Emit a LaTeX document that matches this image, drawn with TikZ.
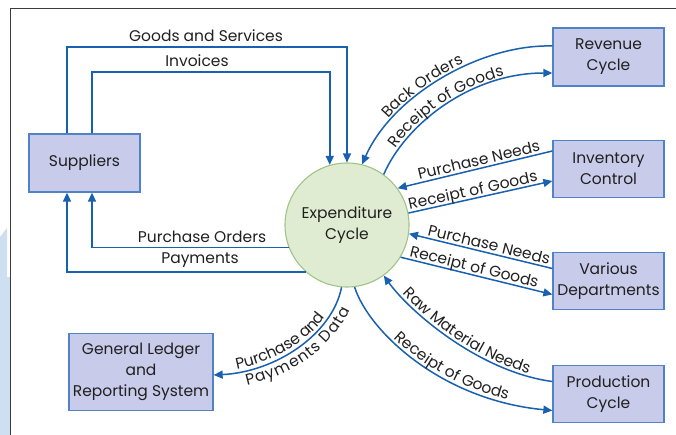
\documentclass[tikz,border=0pt]{standalone}
\usepackage{fontspec}
\setmainfont{Poppins}
\usetikzlibrary{arrows.meta,decorations.text}
\definecolor{flowblue}{RGB}{24,96,176}
\definecolor{boxfill}{RGB}{200,203,234}
\definecolor{boxline}{RGB}{80,130,200}
\definecolor{circfill}{RGB}{224,236,210}
\definecolor{circline}{RGB}{160,196,135}
\definecolor{txt}{RGB}{32,32,32}
\definecolor{sidebar}{RGB}{205,223,240}
\definecolor{frame}{RGB}{60,60,60}
\newcommand\lblfont{\fontsize{15.5pt}{21pt}\selectfont\color{txt}}
\begin{document}
\begin{tikzpicture}[x=1pt,y=-1pt,
  box/.style={draw=boxline, fill=boxfill, line width=1.3pt, minimum width=111pt,
    minimum height=58pt, align=center, font=\lblfont, inner sep=2pt},
  hub/.style={circle, draw=circline, fill=circfill, line width=1.1pt, minimum size=124pt,
    align=center, font=\lblfont, inner sep=0pt},
  flow/.style={draw=flowblue, line width=1.5pt, -{Triangle[length=9pt,width=8pt]}},
  lbl/.style={font=\lblfont, inner sep=0pt, anchor=base},
]
\useasboundingbox (0,0) rectangle (676,435);
\fill[sidebar] (0,237) -- (7,228) -- (7,277) -- (10,277) -- (10,435) -- (0,435) -- cycle;
\draw[frame, line width=1.3pt] (10.5,435) -- (10.5,8.5) -- (676,8.5);

\node[box] (sup) at (84.5,163) {Suppliers};
\node[box] (rev) at (608.5,57) {Revenue\\Cycle};
\node[box, minimum height=57pt] (inv) at (608.5,169) {Inventory\\Control};
\node[box, minimum height=57pt] (var) at (608.5,281) {Various\\Departments};
\node[box, minimum height=57pt] (prod) at (608.5,394) {Production\\Cycle};
\node[box, minimum width=144pt, minimum height=77pt] (gl) at (141,372) {General Ledger\\and\\Reporting System};
\node[hub] (circ) at (347,225) {Expenditure\\Cycle};

\coordinate (gtop) at (0,47);
\coordinate (itop) at (0,72);

% supplier flows
\draw[flow] ([xshift=-17.5pt]sup.north) |- (circ.north |- gtop) -- (circ.north);
\draw[flow] ([xshift=7.5pt]sup.north) |- (circ.106 |- itop) -- (circ.106);
\draw[flow] (circ.201) -| ([xshift=7.5pt]sup.south);
\draw[flow] (circ.229) -| ([xshift=-17.5pt]sup.south);
\node[lbl] (lgs) at (206,42) {Goods and Services};
\node[lbl] (linv) at (197,67) {Invoices};
\node[lbl] (lpo) at (202,243) {Purchase Orders};
\node[lbl] (lpay) at (200,263) {Payments};

% revenue cycle
\draw[flow] ([yshift=11pt]rev.west) .. controls (480,44) and (392,96) .. (circ.76);
\draw[flow] (circ.54) .. controls (405,125) and (470,73) .. ([yshift=-16pt]rev.west);
\path[decorate, decoration={text along path, text={|\lblfont|Back Orders}, raise=3pt,
  text align={left indent=52pt}}] (circ.76) .. controls (392,96) and (480,44) .. ([yshift=11pt]rev.west);
\path[decorate, decoration={text along path, text={|\lblfont|Receipt of Goods}, raise=3pt,
  text align={left indent=28pt}}] (circ.54) .. controls (405,125) and (470,73) .. ([yshift=-16pt]rev.west);

% inventory control
\draw[flow] ([yshift=18pt]inv.west) -- (circ.36);
\draw[flow] (circ.11) -- ([yshift=-12pt]inv.west);
\path[decorate, decoration={text along path, text={|\lblfont|Purchase Needs}, raise=3pt,
  text align={left indent=23pt}}] (circ.36) -- ([yshift=18pt]inv.west);
\path[decorate, decoration={text along path, text={|\lblfont|Receipt of Goods}, raise=3pt,
  text align={left indent=2pt}}] (circ.11) -- ([yshift=-12pt]inv.west);

% various departments
\draw[flow] ([yshift=12.5pt]var.west) -- (circ.352);
\draw[flow] (circ.329) -- ([yshift=-13.5pt]var.west);
\path[decorate, decoration={text along path, text={|\lblfont|Purchase Needs}, raise=3pt,
  text align={left indent=18pt}}] (circ.352) -- ([yshift=12.5pt]var.west);
\path[decorate, decoration={text along path, text={|\lblfont|Receipt of Goods}, raise=3pt,
  text align={left indent=8pt}}] (circ.329) -- ([yshift=-13.5pt]var.west);

% production cycle
\draw[flow] ([yshift=12.5pt]prod.west) .. controls (480,372) and (410,312) .. (circ.306);
\draw[flow] (circ.277) .. controls (368,330) and (440,400) .. ([yshift=-16.5pt]prod.west);
\path[decorate, decoration={text along path, text={|\lblfont|Raw Material Needs}, raise=3pt,
  text align={left indent=26pt}}] (circ.306) .. controls (410,312) and (480,372) .. ([yshift=12.5pt]prod.west);
\path[decorate, decoration={text along path, text={|\lblfont|Receipt of Goods}, raise=3pt,
  text align={left indent=66pt}}] (circ.277) .. controls (368,330) and (440,400) .. ([yshift=-16.5pt]prod.west);

% general ledger
\draw[flow] (circ.265) .. controls (332,335) and (275,372) .. ([yshift=-3pt]gl.east);
\path[decorate, decoration={text along path, text={|\lblfont|Purchase and}, raise=3pt,
  text align={left indent=24pt}}] ([yshift=-3pt]gl.east) .. controls (275,372) and (332,335) .. (circ.265);
\path[decorate, decoration={text along path, text={|\lblfont|Payments Data}, raise=-15pt,
  text align={left indent=30pt}}] ([yshift=-3pt]gl.east) .. controls (275,372) and (332,335) .. (circ.265);
\end{tikzpicture}
\end{document}
